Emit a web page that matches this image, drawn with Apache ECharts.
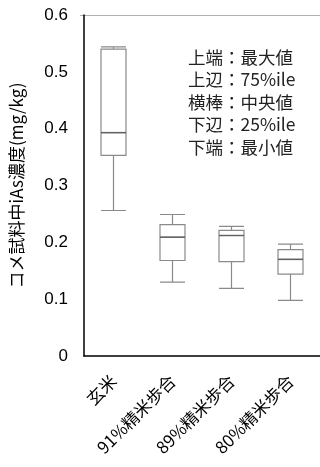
<!DOCTYPE html>
<html><head><meta charset="utf-8">
<script src="https://cdn.jsdelivr.net/npm/echarts@6/dist/echarts.min.js"></script>
<style>html,body{margin:0;padding:0;background:#fff}#c{width:320px;height:467px}</style>
</head><body><div id="c"></div>
<script>
const categories = ['玄米', '91%精米歩合', '89%精米歩合', '80%精米歩合'];
const minVals = [0.256, 0.130, 0.119, 0.098];
const q1Vals = [0.353, 0.168, 0.166, 0.144];
const medianVals = [0.393, 0.209, 0.212, 0.170];
const q3Vals = [0.540, 0.231, 0.221, 0.187];
const maxVals = [0.544, 0.249, 0.228, 0.197];
const yTicks = [0, 0.1, 0.2, 0.3, 0.4, 0.5, 0.6];
const legendLines = ['上端：最大値', '上辺：75%ile', '横棒：中央値', '下辺：25%ile', '下端：最小値'];

const boxData = categories.map((c, i) => [minVals[i], q1Vals[i], medianVals[i], q3Vals[i], maxVals[i]]);
const chart = echarts.init(document.getElementById('c'));
chart.setOption({
  animation: false,
  grid: { left: 80, top: 15, width: 245, height: 341 },
  xAxis: {
    type: 'category', data: categories,
    axisLine: { lineStyle: { color: '#000', width: 1.5 } },
    axisTick: { show: false },
    axisLabel: { rotate: 45, interval: 0, margin: 22, color: '#000', fontSize: 17, fontFamily: 'Noto Sans CJK JP' },
    splitLine: { show: false }
  },
  yAxis: {
    type: 'value', min: 0, max: 0.6, interval: 0.1,
    name: 'コメ試料中iAs濃度(mg/kg)', nameLocation: 'middle', nameGap: 59,
    nameTextStyle: { color: '#000', fontSize: 17, fontFamily: 'Noto Sans CJK JP' },
    axisLine: { show: true, lineStyle: { color: '#000', width: 1.5 } },
    axisTick: { show: false },
    splitLine: { show: false },
    axisLabel: { color: '#000', fontSize: 17, fontFamily: 'Liberation Sans', margin: 16,
      formatter: v => { const t = yTicks.find(x => Math.abs(x - v) < 1e-9); return t === undefined ? '' : String(t); } }
  },
  graphic: [
    { type: 'line', shape: { x1: 80, y1: 15.5, x2: 320, y2: 15.5 }, style: { stroke: '#b0b0b0', lineWidth: 1 } },
    { type: 'text', left: 188, top: 46, style: { text: legendLines.join('\n'), fontSize: 17.5, lineHeight: 22.5, fill: '#222', fontFamily: 'Noto Sans CJK JP' } }
  ],
  series: [{
    type: 'boxplot', data: boxData, boxWidth: [25, 25],
    itemStyle: { color: '#fff', borderColor: '#8a8a8a', borderWidth: 1.2 }
  }, {
    type: 'scatter', data: medianVals, symbol: 'rect', symbolSize: [25, 1.5],
    itemStyle: { color: '#555' }, z: 5
  }]
});
</script></body></html>
